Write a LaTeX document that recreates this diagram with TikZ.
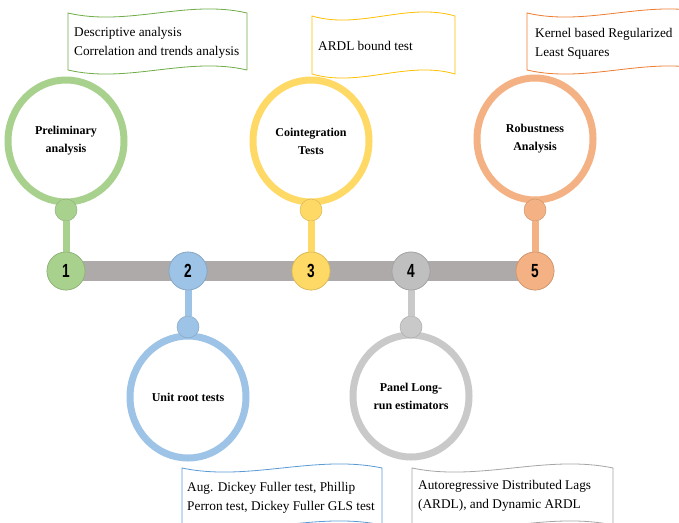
\documentclass[tikz,border=0pt]{standalone}
\usepackage{fontspec}
\usepackage{graphicx}
\setmainfont{Liberation Serif}
\newfontfamily\numfont{Liberation Sans}
\usetikzlibrary{shapes.geometric}
\definecolor{cgreen}{HTML}{A9D18E}
\definecolor{cgreenD}{HTML}{70AD47}
\definecolor{cblue}{HTML}{9DC3E6}
\definecolor{cblueD}{HTML}{5B9BD5}
\definecolor{cyel}{HTML}{FFD966}
\definecolor{cyelD}{HTML}{FFC000}
\definecolor{cgray}{HTML}{C9C9C9}
\definecolor{cgrayN}{HTML}{BFBFBF}
\definecolor{cgrayD}{HTML}{A5A5A5}
\definecolor{corg}{HTML}{F4B183}
\definecolor{corgD}{HTML}{ED7D31}
\definecolor{cbar}{HTML}{AEAAAA}
\newcommand\wavebanner[6]{%
  \draw[banner,#5] (#1,#2) .. controls ({#1+#3/3},{#2+#6}) and ({#1+2*#3/3},{#2-#6}) .. ({#1+#3},#2)
    -- ({#1+#3},{#2+#4}) .. controls ({#1+2*#3/3},{#2+#4-#6}) and ({#1+#3/3},{#2+#4+#6}) .. (#1,{#2+#4}) -- cycle;}
\newcommand\numlabel[1]{{\numfont\bfseries\fontsize{19}{19}\selectfont\scalebox{0.72}[1]{#1}}}
\tikzset{
  ring/.style={ellipse, draw=#1, line width=7pt, minimum width=116pt, minimum height=122pt, inner sep=0pt, align=center, font=\fontsize{12}{18}\selectfont\bfseries, fill=white},
  knob/.style={circle, fill=#1, draw=#1!85!black, line width=0.5pt, minimum size=22pt, inner sep=0pt},
  numc/.style={circle, fill=#1, draw=#1!85!black, line width=0.6pt, minimum size=38pt, inner sep=0pt},
  stem/.style={line width=7pt, draw=#1},
  banner/.style={line width=0.8pt},
  btext/.style={anchor=west, align=left, inner sep=0pt, font=\fontsize{13.3}{19}\selectfont}
}
\begin{document}
\begin{tikzpicture}[x=1pt,y=-1pt]
\useasboundingbox (0,0) rectangle (679,522);
\clip (0,0) rectangle (679,522);
\fill[white] (0,0) rectangle (679,522);
% number circles positions
\coordinate (p1) at (66,271);
\coordinate (p5) at (535,271);
\draw[line width=20pt, cbar] (p1) -- (p5);
% banners
\wavebanner{68}{13}{179}{57}{cgreenD}{14}
\wavebanner{312}{16}{143}{58}{cyelD}{14}
\wavebanner{527}{13}{180}{57}{corgD}{14}
\wavebanner{182}{468}{200}{57}{cblueD}{14}
\wavebanner{412}{468}{201}{57}{cgrayD}{14}
\node[btext] (t1) at (74,43) {Descriptive analysis\\Correlation and trends analysis};
\node[btext] (t3) at (318,46) {ARDL bound test};
\node[btext] (t5) at (535,44) {Kernel based Regularized\\Least Squares};
\node[btext] (t2) at (187,498) {Aug. Dickey Fuller test, Phillip\\Perron test, Dickey Fuller GLS test};
\node[btext] (t4) at (418,496) {Autoregressive Distributed Lags\\(ARDL), and Dynamic ARDL};
% rings
\node[ring=cgreen] (r1) at (66,141) {Preliminary\\analysis};
\node[ring=cblue] (r2) at (188,397) {Unit root tests};
\node[ring=cyel] (r3) at (311,141) {Cointegration\\Tests};
\node[ring=cgray] (r4) at (411,396) {Panel Long-\\run estimators};
\node[ring=corg] (r5) at (535,139) {Robustness\\Analysis};
% number circles
\node[numc=cgreen] (n1) at (p1) {};
\node[numc=cblue] (n2) at (188,271) {};
\node[numc=cyel] (n3) at (311,271) {};
\node[numc=cgrayN] (n4) at (411,271) {};
\node[numc=corg] (n5) at (p5) {};
% knobs
\node[knob=cgreen] (k1) at (66,210) {};
\node[knob=cblue] (k2) at (188,327) {};
\node[knob=cyel] (k3) at (311,210) {};
\node[knob=cgray] (k4) at (411,327) {};
\node[knob=corg] (k5) at (535,210) {};
% stems
\draw[stem=cgreen] (k1) -- (n1);
\draw[stem=cblue] (k2) -- (n2);
\draw[stem=cyel] (k3) -- (n3);
\draw[stem=cgray] (k4) -- (n4);
\draw[stem=corg] (k5) -- (n5);
% redraw circles on top of stems
\node[numc=cgreen] at (n1) {\numlabel{1}};
\node[numc=cblue] at (n2) {\numlabel{2}};
\node[numc=cyel] at (n3) {\numlabel{3}};
\node[numc=cgrayN] at (n4) {\numlabel{4}};
\node[numc=corg] at (n5) {\numlabel{5}};
\end{tikzpicture}
\end{document}
